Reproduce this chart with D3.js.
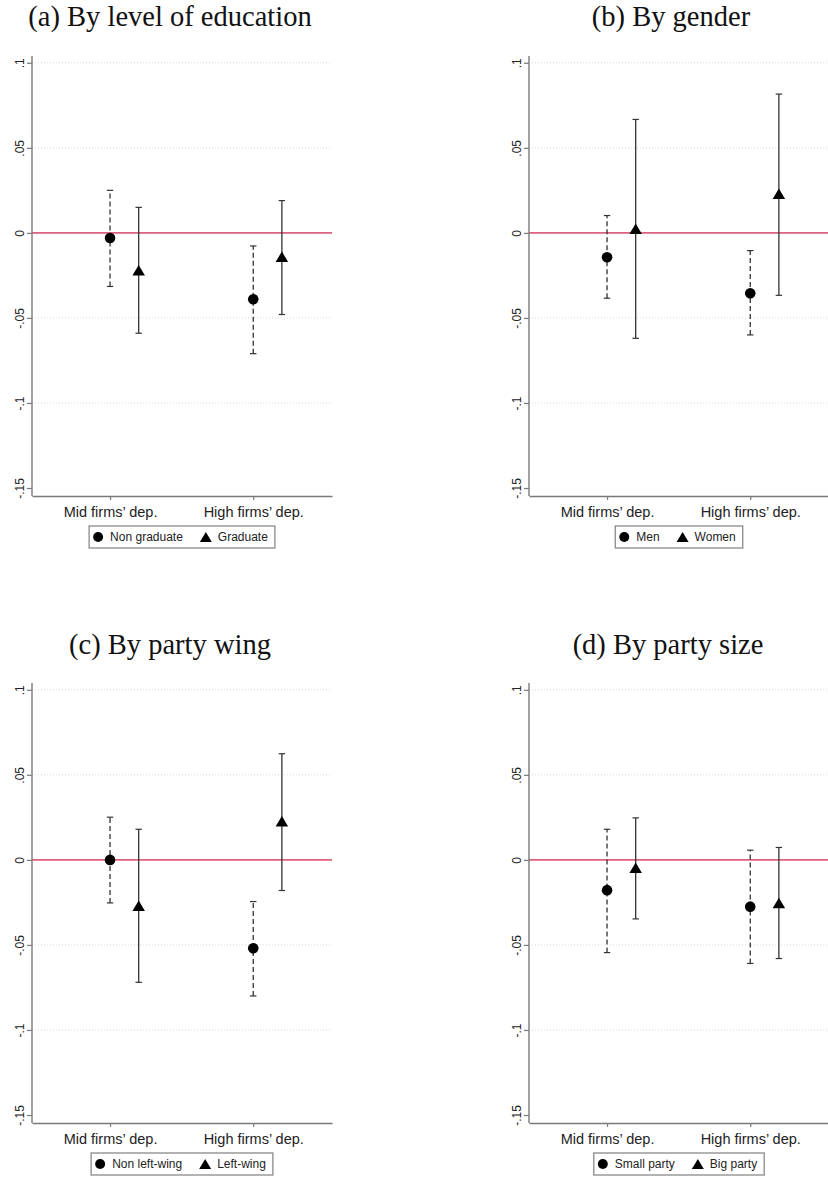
<!DOCTYPE html>
<html><head><meta charset="utf-8">
<script src="https://cdn.jsdelivr.net/npm/d3@7"></script>
<style>body{margin:0;background:#fff} svg{display:block}</style>
</head><body>
<svg id="c" width="828" height="1178"></svg>
<script>
const categories = ["Mid firms’ dep.", "High firms’ dep."];
const titles = ["(a) By level of education", "(b) By gender", "(c) By party wing", "(d) By party size"];
const legendLabels = [["Non graduate", "Graduate"], ["Men", "Women"], ["Non left-wing", "Left-wing"], ["Small party", "Big party"]];
const yTicks = [-0.15, -0.1, -0.05, 0, 0.05, 0.1];
const yTickLabels = ["-.15", "-.1", "-.05", "0", ".05", ".1"];
const gridTicks = [-0.1, -0.05, 0.05, 0.1];

// circle series (dashed CI)
const circleEst = [[-0.003, -0.039], [-0.0143, -0.0355], [0.000, -0.052], [-0.0178, -0.0275]];
const circleLo  = [[-0.0315, -0.071], [-0.0384, -0.060], [-0.0253, -0.080], [-0.0545, -0.0609]];
const circleHi  = [[0.025, -0.0077], [0.0102, -0.0104], [0.0251, -0.0245], [0.018, 0.0057]];
// triangle series (solid CI)
const triEst = [[-0.022, -0.014], [0.0024, 0.023], [-0.027, 0.0227], [-0.0046, -0.0253]];
const triLo  = [[-0.059, -0.048], [-0.062, -0.0367], [-0.072, -0.018], [-0.0347, -0.058]];
const triHi  = [[0.015, 0.019], [0.0667, 0.0816], [0.018, 0.0624], [0.0247, 0.0073]];

const svg = d3.select("#c");
const SANS = "'Liberation Sans', Arial, sans-serif";
const SERIF = "'Liberation Serif', 'Times New Roman', serif";
const plotW = 300, plotH = 440;
const lefts = [32, 529, 32, 529];
const tops = [56, 56, 683, 683];
const titleX = [170, 671, 170, 668];
const titleY = [26, 26, 654, 654];
const axisColor = "#7a7a7a";
const barColor = "#333";

function triPath(w, h) {
  return `M0,${-h/2}L${w/2},${h/2}L${-w/2},${h/2}Z`;
}

titles.forEach((t, p) => {
  const g = svg.append("g").attr("transform", `translate(${lefts[p]},${tops[p]})`);
  const x = d3.scaleLinear().domain([0.455, 2.55]).range([0, plotW]);
  const y = d3.scaleLinear().domain([-0.1547, 0.104]).range([plotH, 0]);

  // grid
  g.selectAll(".grid").data(gridTicks).enter().append("line")
    .attr("x1", 0).attr("x2", plotW)
    .attr("y1", d => y(d)).attr("y2", d => y(d))
    .attr("stroke", "#d8d8d8").attr("stroke-width", 1).attr("stroke-dasharray", "1,2");

  // zero line
  g.append("line").attr("x1", 0).attr("x2", plotW).attr("y1", y(0)).attr("y2", y(0))
    .attr("stroke", "#dd607e").attr("stroke-width", 1.7);

  const series = [
    {est: circleEst[p], lo: circleLo[p], hi: circleHi[p], off: 0, dash: "5,3", shape: "circle"},
    {est: triEst[p], lo: triLo[p], hi: triHi[p], off: 0.2, dash: null, shape: "tri"}
  ];
  series.forEach(s => {
    s.est.forEach((e, i) => {
      const cx = x(i + 1 + s.off);
      g.append("line").attr("x1", cx).attr("x2", cx).attr("y1", y(s.lo[i])).attr("y2", y(s.hi[i]))
        .attr("stroke", barColor).attr("stroke-width", 1.3)
        .attr("stroke-dasharray", s.dash);
      [s.lo[i], s.hi[i]].forEach(v => {
        g.append("line").attr("x1", cx - 3.2).attr("x2", cx + 3.2).attr("y1", y(v)).attr("y2", y(v))
          .attr("stroke", barColor).attr("stroke-width", 1.2);
      });
      if (s.shape === "circle") {
        g.append("circle").attr("cx", cx).attr("cy", y(e)).attr("r", 5.3).attr("fill", "#000");
      } else {
        g.append("path").attr("d", triPath(12.5, 10.5))
          .attr("transform", `translate(${cx},${y(e)})`).attr("fill", "#000");
      }
    });
  });

  // y axis
  const ya = g.append("g").call(d3.axisLeft(y).tickValues(yTicks)
    .tickFormat((d, i) => yTickLabels[i]).tickSize(5).tickSizeOuter(0));
  ya.select(".domain").attr("stroke", axisColor).attr("stroke-width", 1.4);
  ya.selectAll(".tick line").attr("stroke", axisColor).attr("stroke-width", 1.2);
  ya.selectAll(".tick text")
    .attr("transform", "rotate(-90)").attr("x", 0).attr("y", -8).attr("dy", 0)
    .attr("text-anchor", "middle")
    .attr("font-family", SANS).attr("font-size", 12).attr("fill", "#222");

  // x axis
  const xa = g.append("g").attr("transform", `translate(0,${plotH})`)
    .call(d3.axisBottom(x).tickValues([1, 2]).tickFormat((d, i) => categories[i]).tickSize(4).tickSizeOuter(0));
  xa.select(".domain").attr("stroke", axisColor).attr("stroke-width", 1.4);
  xa.selectAll(".tick line").attr("stroke", axisColor).attr("stroke-width", 1.2);
  xa.selectAll(".tick text").attr("y", 11).attr("dy", "0.71em")
    .attr("font-family", SANS).attr("font-size", 14.5).attr("fill", "#222");
  // y axis domain should extend to x axis
  ya.select(".domain").attr("d", `M0,0V${plotH}`);

  // legend
  const lg = g.append("g");
  const texts = legendLabels[p].map(l => lg.append("text").text(l)
    .attr("font-family", SANS).attr("font-size", 12).attr("fill", "#222"));
  const widths = texts.map(t => t.node().getComputedTextLength());
  const boxW = 21 + widths[0] + 14 + 21 + widths[1] + 7;
  const boxH = 22;
  const bx = plotW / 2 - boxW / 2;
  const by = plotH + 30;
  lg.insert("rect", ":first-child").attr("x", bx).attr("y", by).attr("width", boxW).attr("height", boxH)
    .attr("fill", "#fff").attr("stroke", "#8a8a8a").attr("stroke-width", 1.3);
  const cy = by + boxH / 2;
  let cur = bx;
  legendLabels[p].forEach((l, i) => {
    if (i === 0) {
      lg.append("circle").attr("cx", cur + 9).attr("cy", cy).attr("r", 5).attr("fill", "#000");
    } else {
      lg.append("path").attr("d", triPath(12, 10)).attr("transform", `translate(${cur + 9},${cy})`).attr("fill", "#000");
    }
    texts[i].attr("x", cur + 21).attr("y", cy).attr("dy", "0.35em");
    cur += 21 + widths[i] + 14;
  });

  // title
  svg.append("text").attr("x", titleX[p]).attr("y", titleY[p]).attr("text-anchor", "middle")
    .attr("font-family", SERIF).attr("font-size", 28.5).attr("fill", "#111").text(t);
});
</script>
</body></html>
